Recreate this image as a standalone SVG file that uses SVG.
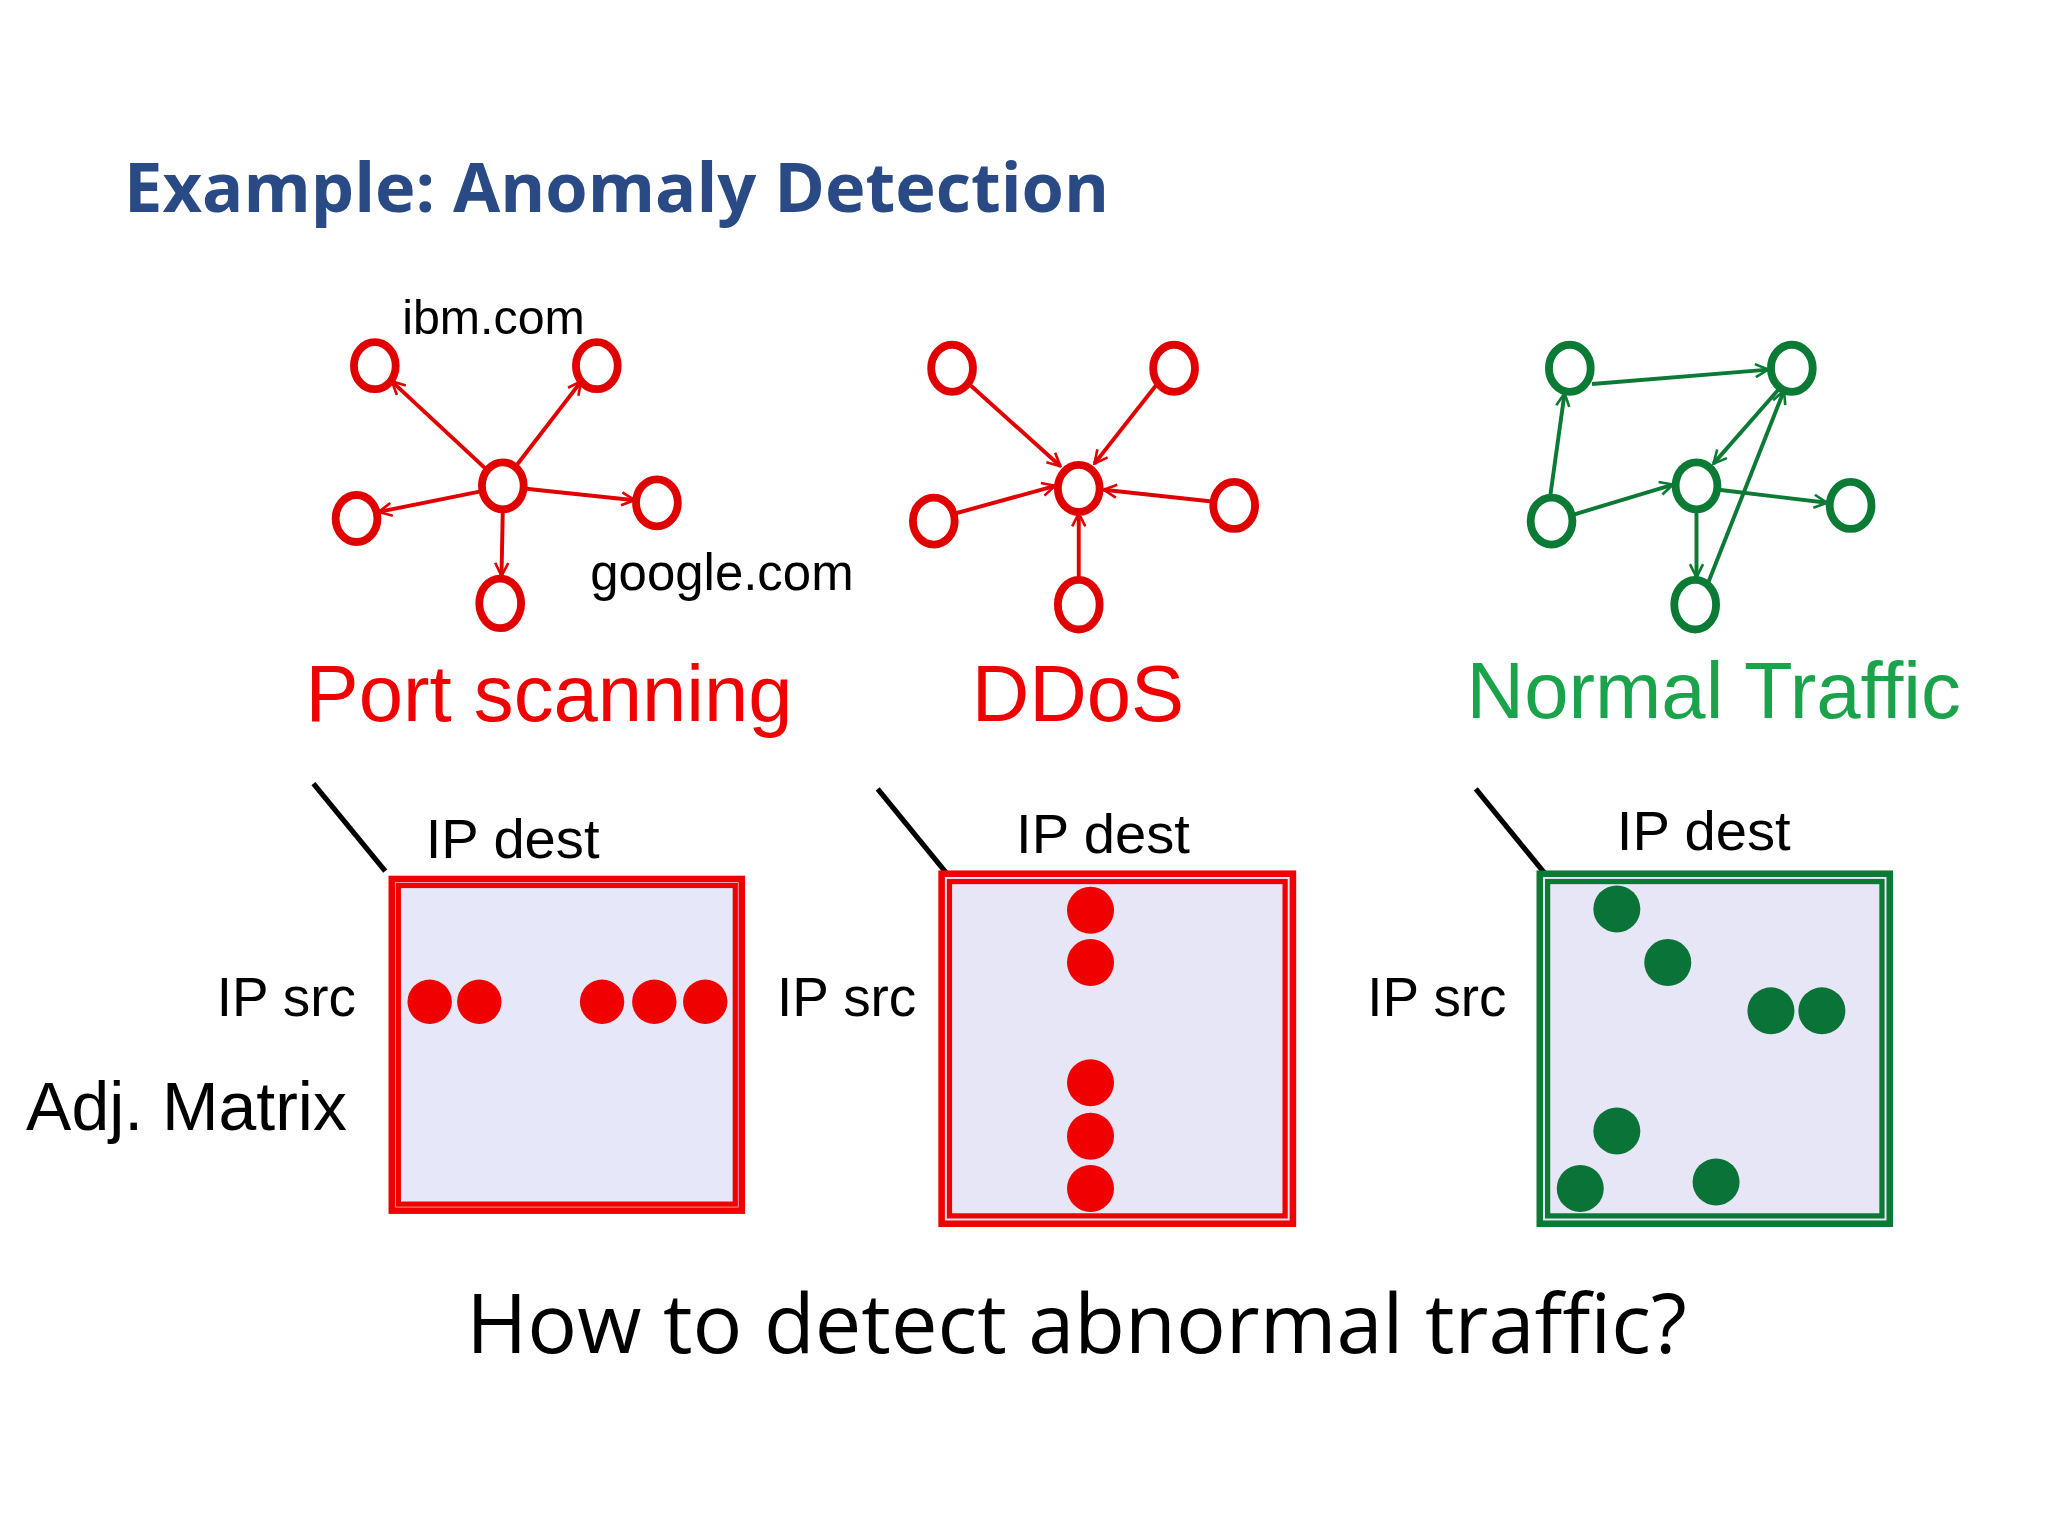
<svg xmlns="http://www.w3.org/2000/svg" width="2048" height="1536" viewBox="0 0 2048 1536">
<style>
.t{font-family:"Liberation Sans",Arial,sans-serif}
.r{fill:none;stroke:#f00000;stroke-width:4}
.g{fill:none;stroke:#0a7a35;stroke-width:4}
.er{stroke:#e00000;stroke-width:3;fill:none}
.eg{stroke:#0a7a35;stroke-width:3;fill:none}
</style>
<defs>
<marker id="ar" viewBox="0 0 12 12" refX="11" refY="6" markerWidth="12" markerHeight="12" markerUnits="userSpaceOnUse" orient="auto"><path d="M1,1 L11,6 L1,11" fill="none" stroke="#e00000" stroke-width="2"/></marker>
<marker id="ag" viewBox="0 0 12 12" refX="11" refY="6" markerWidth="12" markerHeight="12" markerUnits="userSpaceOnUse" orient="auto"><path d="M1,1 L11,6 L1,11" fill="none" stroke="#0a7a35" stroke-width="2"/></marker>
</defs>
<rect width="2048" height="1536" fill="#fff"/>
<g transform="scale(1.306)">
<text x="95" y="162" font-size="52.5" font-weight="bold" fill="#2a4a86" font-family="Open Sans,sans-serif">Example: Anomaly Detection</text>
<g id="connectors">
<line class="er" x1="373" y1="360" x2="300" y2="292" marker-end="url(#ar)"/>
<line class="er" x1="395" y1="357" x2="445" y2="292" marker-end="url(#ar)"/>
<line class="er" x1="369" y1="376" x2="290" y2="392" marker-end="url(#ar)"/>
<line class="er" x1="401" y1="374" x2="486" y2="383" marker-end="url(#ar)"/>
<line class="er" x1="385" y1="390" x2="384" y2="441" marker-end="url(#ar)"/>
<line class="er" x1="742" y1="294" x2="812" y2="357" marker-end="url(#ar)"/>
<line class="er" x1="886" y1="294" x2="838" y2="355" marker-end="url(#ar)"/>
<line class="er" x1="732" y1="393" x2="808" y2="372" marker-end="url(#ar)"/>
<line class="er" x1="928" y1="384" x2="845" y2="375" marker-end="url(#ar)"/>
<line class="er" x1="826" y1="444" x2="826" y2="393" marker-end="url(#ar)"/>
<line class="eg" x1="1219" y1="294" x2="1354" y2="283" marker-end="url(#ag)"/>
<line class="eg" x1="1187" y1="380" x2="1198" y2="301" marker-end="url(#ag)"/>
<line class="eg" x1="1205" y1="394" x2="1281" y2="371" marker-end="url(#ag)"/>
<line class="eg" x1="1316" y1="375" x2="1399" y2="385" marker-end="url(#ag)"/>
<line class="eg" x1="1299" y1="391" x2="1299" y2="442" marker-end="url(#ag)"/>
<line class="eg" x1="1362" y1="298" x2="1312" y2="355" marker-end="url(#ag)"/>
<line class="eg" x1="1308" y1="446" x2="1366" y2="299" marker-end="url(#ag)"/>
<line x1="240" y1="600" x2="295" y2="667" stroke="#000" stroke-width="4"/>
<line x1="672" y1="604" x2="725" y2="669" stroke="#000" stroke-width="4"/>
<line x1="1130" y1="604" x2="1183" y2="669" stroke="#000" stroke-width="4"/>
</g>
<g id="portscan" fill="none" stroke="#e00000" stroke-width="6">
<ellipse cx="385" cy="372" rx="16" ry="18"/><ellipse cx="287" cy="280" rx="16" ry="18"/><ellipse cx="457" cy="280" rx="16" ry="18"/><ellipse cx="273" cy="397" rx="16" ry="18"/><ellipse cx="503" cy="385" rx="16" ry="18"/><ellipse cx="383" cy="462" rx="16" ry="19"/>
</g>
<g id="ddos" fill="none" stroke="#e00000" stroke-width="6">
<ellipse cx="826" cy="374" rx="16" ry="18"/><ellipse cx="729" cy="282" rx="16" ry="18"/><ellipse cx="899" cy="282" rx="16" ry="18"/><ellipse cx="715" cy="399" rx="16" ry="18"/><ellipse cx="945" cy="387" rx="16" ry="18"/><ellipse cx="826" cy="463" rx="16" ry="19"/>
</g>
<g id="normal" fill="none" stroke="#0a7a35" stroke-width="6">
<ellipse cx="1202" cy="282" rx="16" ry="18"/><ellipse cx="1372" cy="282" rx="16" ry="18"/><ellipse cx="1188" cy="399" rx="16" ry="18"/><ellipse cx="1299" cy="372" rx="16" ry="18"/><ellipse cx="1417" cy="387" rx="16" ry="18"/><ellipse cx="1298" cy="463" rx="16" ry="19"/>
</g>
<text class="t" x="308" y="256" font-size="37">ibm.com</text>
<text class="t" x="452" y="452" font-size="39">google.com</text>
<text class="t" x="234" y="552" font-size="61" fill="#f00000">Port scanning</text>
<text class="t" x="744" y="552" font-size="61" fill="#f00000">DDoS</text>
<text class="t" x="1123" y="550" font-size="61" fill="#1aa34a">Normal Traffic</text>
<g id="m1">
<rect x="300" y="673" width="268" height="254" fill="#e6e8fa" stroke="#f00000" stroke-width="5"/>
<rect x="305" y="678" width="258" height="244" class="r" stroke-width="1.5"/>
<g fill="#f00000"><circle cx="329" cy="767" r="17"/><circle cx="367" cy="767" r="17"/><circle cx="461" cy="767" r="17"/><circle cx="501" cy="767" r="17"/><circle cx="540" cy="767" r="17"/></g>
<text class="t" x="326" y="657" font-size="43">IP dest</text>
<text class="t" x="166" y="778" font-size="42">IP src</text>
<text class="t" x="20" y="865" font-size="52">Adj. Matrix</text>
</g>
<g id="m2">
<rect x="721" y="669" width="269" height="268" fill="#e6e6f6" stroke="#f00000" stroke-width="5"/>
<rect x="727" y="675" width="257" height="256" class="r" stroke-width="1.5"/>
<g fill="#f00000"><circle cx="835" cy="697" r="18"/><circle cx="835" cy="737" r="18"/><circle cx="835" cy="829" r="18"/><circle cx="835" cy="870" r="18"/><circle cx="835" cy="910" r="18"/></g>
<text class="t" x="778" y="653" font-size="43">IP dest</text>
<text class="t" x="595" y="778" font-size="42">IP src</text>
</g>
<g id="m3">
<rect x="1179" y="669" width="268" height="268" fill="#e6e6f6" stroke="#0a7a35" stroke-width="5"/>
<rect x="1185" y="675" width="256" height="256" class="g" stroke-width="1.5"/>
<g fill="#0a7337"><circle cx="1238" cy="696" r="18"/><circle cx="1277" cy="737" r="18"/><circle cx="1356" cy="774" r="18"/><circle cx="1395" cy="774" r="18"/><circle cx="1238" cy="866" r="18"/><circle cx="1210" cy="910" r="18"/><circle cx="1314" cy="905" r="18"/></g>
<text class="t" x="1238" y="651" font-size="43">IP dest</text>
<text class="t" x="1047" y="778" font-size="42">IP src</text>
</g>
<text x="357" y="1036" font-size="63.5" font-family="Open Sans,sans-serif">How to detect abnormal traffic?</text>
</g>
</svg>
